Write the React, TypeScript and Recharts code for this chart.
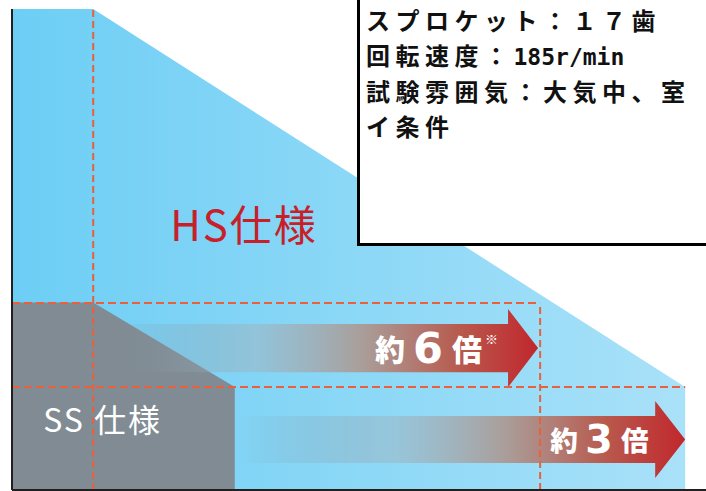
import { ComposedChart, Area, XAxis, YAxis, ReferenceLine, ReferenceArea, ReferenceDot } from 'recharts';

// life curves, x = running time (relative), y = remaining strength (relative)
const xPoints = [0, 11.7, 32.1, 32.1, 97, 97];
const hsValues = [100, 100, null, null, 21.4, 0];
const ssValues = [39, 39, 21.4, 0, null, null];

// dashed guides
const guideVertX = [11.7, 76.1];
const guideVertTop = [100, 38.9];
const guideHorY = [38.9, 21.4];
const guideHorEnd = [76.1, 97];

// comparison arrows
const arrowStart = [12.7, 32.4];
const arrowTip = [75.8, 97];
const arrowTop = [34.5, 15.4];
const arrowBottom = [24.5, 5.6];
const arrowFactor = ['6', '3'];
const arrowNote = ['※', ''];

const specNames = ['HS仕様', 'SS 仕様'];
const conditionLines = ['スプロケット：１７歯', '回転速度：', '試験雰囲気：大気中、室', 'イ条件'];
const speedValue = '185r/min';

const data = xPoints.map((x, i) => ({ x, hs: hsValues[i], ss: ssValues[i] }));

const CJK = '"Noto Sans CJK JP", "Noto Sans", sans-serif';
const DASH = '#e8603c';

function Arrow(props: any) {
  const { x, y, width, height, factor, note, textOffset, scale } = props;
  const head = 30;
  const over = 15;
  const tip = x + width;
  const neck = tip - head;
  const cy = y + height / 2;
  const pts = [
    [x, y],
    [neck, y],
    [neck, y - over],
    [tip, cy],
    [neck, y + height + over],
    [neck, y + height],
    [x, y + height],
  ]
    .map((p) => p.join(','))
    .join(' ');
  const s = scale;
  return (
    <g>
      <polygon points={pts} fill="url(#arrowGrad)" />
      <text x={tip - textOffset} y={cy} fill="#fff" dominantBaseline="central">
        <tspan fontFamily={CJK} fontWeight={900} fontSize={30 * s} dominantBaseline="central">約</tspan>
        <tspan dx={8 * s} fontFamily='"DejaVu Sans", sans-serif' fontWeight="bold" fontSize={43 * s} dominantBaseline="central">
          {factor}
        </tspan>
        <tspan dx={9 * s} fontFamily={CJK} fontWeight={900} fontSize={30 * s} dominantBaseline="central">倍</tspan>
        {note ? (
          <tspan dx={3} dy={-10} fontFamily={CJK} fontSize={13} dominantBaseline="central">{note}</tspan>
        ) : null}
      </text>
    </g>
  );
}

export default function App() {
  return (
    <div style={{ position: 'absolute', left: 0, top: 0, width: 706, height: 491, background: '#fff', overflow: 'hidden' }}>
      <ComposedChart width={706} height={491} data={data} margin={{ top: 9, right: 0, bottom: 1, left: 12 }}>
        <defs>
          <linearGradient id="hsGrad" x1="0" y1="0" x2="1" y2="0">
            <stop offset="0%" stopColor="#6dcef5" />
            <stop offset="100%" stopColor="#a9e1f8" />
          </linearGradient>
          <linearGradient id="arrowGrad" x1="0" y1="0" x2="1" y2="0">
            <stop offset="0%" stopColor="#7d8a95" stopOpacity={0} />
            <stop offset="35%" stopColor="#9db6c4" stopOpacity={0.55} />
            <stop offset="60%" stopColor="#ab9a94" stopOpacity={0.95} />
            <stop offset="82%" stopColor="#b85a4e" stopOpacity={1} />
            <stop offset="100%" stopColor="#c1272d" stopOpacity={1} />
          </linearGradient>
        </defs>
        <XAxis type="number" dataKey="x" domain={[0, 100]} hide />
        <YAxis type="number" domain={[0, 100]} hide />
        <Area type="linear" dataKey="hs" stroke="none" fill="url(#hsGrad)" fillOpacity={1} connectNulls isAnimationActive={false} />
        <Area type="linear" dataKey="ss" stroke="none" fill="#808b93" fillOpacity={1} connectNulls isAnimationActive={false} />
        {arrowStart.map((x1, i) => (
          <ReferenceArea
            key={`arrow-${i}`}
            x1={x1}
            x2={arrowTip[i]}
            y1={arrowBottom[i]}
            y2={arrowTop[i]}
            shape={(p: any) => (
              <Arrow {...p} factor={arrowFactor[i]} note={arrowNote[i]} textOffset={i === 0 ? 163 : 135} scale={i === 0 ? 1 : 0.92} />
            )}
          />
        ))}
        {guideVertX.map((x, i) => (
          <ReferenceLine
            key={`gv-${i}`}
            segment={[{ x, y: 0 }, { x, y: guideVertTop[i] }]}
            stroke={DASH}
            strokeWidth={2}
            strokeDasharray="7 4"
          />
        ))}
        {guideHorY.map((y, i) => (
          <ReferenceLine
            key={`gh-${i}`}
            segment={[{ x: 0, y }, { x: guideHorEnd[i], y }]}
            stroke={DASH}
            strokeWidth={2}
            strokeDasharray="8 4"
          />
        ))}
        <ReferenceLine x={0} stroke="#231f20" strokeWidth={2} />
        <ReferenceLine y={0} stroke="#231f20" strokeWidth={2} />
        <ReferenceDot
          x={22.8}
          y={55.7}
          shape={(p: any) => (
            <text x={p.cx} y={p.cy} fill="#c8202a" fontFamily={CJK} fontSize={42} letterSpacing={2} dominantBaseline="central">
              {specNames[0]}
            </text>
          )}
        />
        <ReferenceDot
          x={4.5}
          y={14.9}
          shape={(p: any) => (
            <text x={p.cx} y={p.cy} fill="#fff" fontFamily={CJK} fontSize={32} letterSpacing={2} dominantBaseline="central">
              {specNames[1]}
            </text>
          )}
        />
      </ComposedChart>
      <div
        style={{
          position: 'absolute',
          left: 357,
          top: -4,
          width: 360,
          height: 250,
          boxSizing: 'border-box',
          border: '3.5px solid #000',
          background: '#fff',
          padding: '4px 0 0 6px',
          fontFamily: CJK,
          fontWeight: 700,
          fontSize: 24,
          lineHeight: '34.5px',
          color: '#111',
          whiteSpace: 'nowrap',
          letterSpacing: 5.5,
        }}
      >
        <div>{conditionLines[0]}</div>
        <div>
          {conditionLines[1]}
          <span style={{ fontFamily: '"DejaVu Sans Mono", monospace', fontSize: 23, letterSpacing: 0 }}>{speedValue}</span>
        </div>
        <div>{conditionLines[2]}</div>
        <div>{conditionLines[3]}</div>
      </div>
    </div>
  );
}
